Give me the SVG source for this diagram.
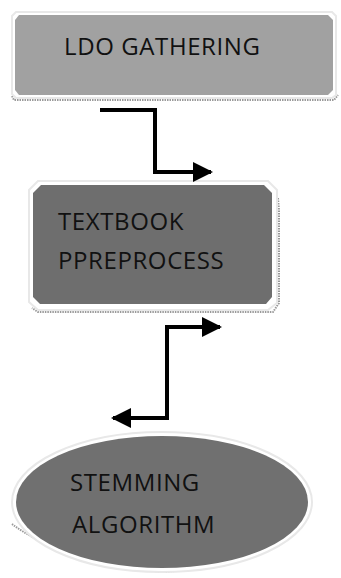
<svg xmlns="http://www.w3.org/2000/svg" width="341" height="578" viewBox="0 0 341 578">
<defs>
<style>
.lbl{font-family:"Open Sans","Liberation Sans",sans-serif;font-size:24px;fill:#111;letter-spacing:0.6px;}
.conn{fill:none;stroke:#000;stroke-width:4;}
.shadow{fill:none;stroke:#9a9a9a;stroke-width:2;stroke-dasharray:1.5 1;}
</style>
<marker id="ah" viewBox="0 0 10 10" refX="9" refY="5" markerWidth="5" markerHeight="5" orient="auto" markerUnits="strokeWidth">
<path d="M0,0 L10,5 L0,10 Z" fill="#000"/>
</marker>
<marker id="ahs" viewBox="0 0 10 10" refX="1" refY="5" markerWidth="5" markerHeight="5" orient="auto" markerUnits="strokeWidth">
<path d="M10,0 L0,5 L10,10 Z" fill="#000"/>
</marker>
</defs>
<rect width="341" height="578" fill="#fff"/>
<g id="node-ldo">
<path class="shadow" d="M12,96 L14,100 L334,100 L338,95"/>
<path d="M16,12 L332,12 L336,16 L336,95 L332,98 L16,98 L12,94 L12,16 Z" fill="#fff" stroke="#e8e8e8" stroke-width="2"/>
<path d="M19,15 L328,15 L333,20 L333,90 L328,95 L19,95 L15,90 L15,20 Z" fill="#a1a1a1"/>
<text class="lbl" x="64" y="55">LDO GATHERING</text>
</g>
<g id="node-textbook">
<path class="shadow" d="M278,198 L279,210 L279,303 L273,312 L38,312 L32,308"/>
<path d="M38,181 L268,181 L277,190 L277,303 L268,310 L38,310 L29,302 L29,190 Z" fill="#fff" stroke="#e8e8e8" stroke-width="2"/>
<path d="M41,185 L264,185 L272,193 L272,297 L266,304 L40,304 L33,297 L33,193 Z" fill="#6e6e6e"/>
<text class="lbl" x="58" y="230">TEXTBOOK</text>
<text class="lbl" x="58" y="269">PPREPROCESS</text>
</g>
<g id="node-stemming">
<path class="shadow" d="M12,524 Q60,560 162,572 Q270,565 310,510"/>
<ellipse cx="162" cy="502" rx="150" ry="70" fill="#fff" stroke="#e8e8e8" stroke-width="2"/>
<ellipse cx="162" cy="502" rx="146" ry="66" fill="#707070"/>
<text class="lbl" x="70" y="491">STEMMING</text>
<text class="lbl" x="72" y="533">ALGORITHM</text>
</g>
<g id="connectors">
<path class="conn" d="M100,110 L155,110 L155,172 L211,172" marker-end="url(#ah)"/>
<path class="conn" d="M113,418 L167,418 L167,327 L220,327" marker-start="url(#ahs)" marker-end="url(#ah)"/>
</g>
</svg>
